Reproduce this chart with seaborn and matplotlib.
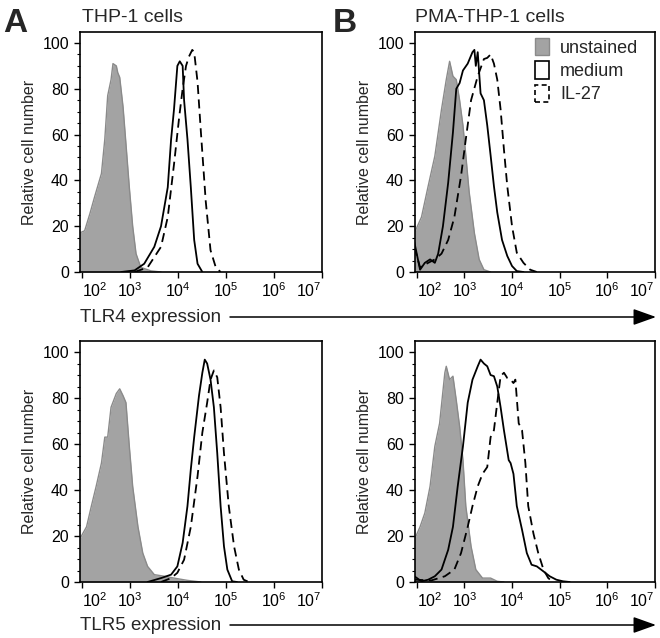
import numpy as np
import matplotlib
matplotlib.use('Agg')
import matplotlib.pyplot as plt
import seaborn as sns
from matplotlib.patches import Patch, FancyArrowPatch
from matplotlib.ticker import FixedLocator, LogLocator, NullFormatter, MultipleLocator

sns.set_theme(style='ticks')
plt.rcParams['font.family'] = ['Liberation Sans', 'DejaVu Sans']

# x values are log10(fluorescence), y values are relative cell number
# THP-1 cells, TLR4
a_tlr4_unst_x = [1.95, 2.06, 2.17, 2.27, 2.41, 2.48, 2.54, 2.61, 2.65, 2.72, 2.75, 2.79, 2.86,
                 2.92, 2.99, 3.06, 3.13, 3.23, 3.44, 3.65]
a_tlr4_unst_y = [17, 18, 25.5, 33, 43, 58, 77, 84, 91, 90, 87, 85, 72, 56, 37, 20, 8, 2, 0.5, 0]
a_tlr4_med_x = [2.82, 3.10, 3.30, 3.51, 3.65, 3.79, 3.86, 3.92, 3.99, 4.04, 4.10, 4.13, 4.20,
                4.27, 4.34, 4.41, 4.51]
a_tlr4_med_y = [0, 0.7, 3.6, 11, 20, 37, 58, 71, 90, 92, 90, 75, 58, 37, 14, 3.6, 0]
a_tlr4_il27_x = [3.10, 3.37, 3.65, 3.79, 3.92, 4.03, 4.10, 4.17, 4.23, 4.30, 4.34, 4.41, 4.48,
                 4.58, 4.68, 4.79, 4.89]
a_tlr4_il27_y = [0, 2, 11, 24, 47, 68, 80, 90, 94, 97, 96, 83, 61, 31, 9.5, 2, 0]

# PMA-THP-1 cells, TLR4
b_tlr4_unst_x = [1.95, 2.10, 2.24, 2.38, 2.52, 2.62, 2.69, 2.76, 2.83, 2.90, 2.97, 3.03, 3.10,
                 3.21, 3.31, 3.41, 3.55]
b_tlr4_unst_y = [17, 24, 37.5, 50.6, 71, 84, 92, 85.5, 84, 75, 64, 51, 35, 17, 5.5, 1, 0]
b_tlr4_med_x = [1.95, 2.07, 2.17, 2.28, 2.38, 2.45, 2.55, 2.66, 2.76, 2.83, 2.90, 2.97, 3.07,
                3.17, 3.21, 3.24, 3.28, 3.34, 3.41, 3.48, 3.55, 3.62, 3.69, 3.79, 3.90, 4.00,
                4.10, 4.24]
b_tlr4_med_y = [13, 1, 4, 5.5, 4, 8, 20, 39, 61, 80, 82.5, 88, 91, 96, 97, 90, 96, 78, 75, 64,
                51, 37.5, 26, 14, 7, 2.6, 0.4, 0]
b_tlr4_il27_x = [1.95, 2.07, 2.24, 2.38, 2.52, 2.66, 2.79, 2.93, 3.03, 3.14, 3.28, 3.41, 3.48,
                 3.55, 3.62, 3.69, 3.76, 3.83, 3.90, 4.00, 4.10, 4.24, 4.38, 4.52]
b_tlr4_il27_y = [11, 2, 4, 5.5, 8, 14, 24, 42, 58, 75, 85.5, 93, 93.5, 95, 91, 84, 71, 53.5,
                 37.5, 20, 8.4, 4, 1, 0]

# THP-1 cells, TLR5
a_tlr5_unst_x = [1.95, 2.10, 2.20, 2.30, 2.41, 2.48, 2.54, 2.61, 2.72, 2.79, 2.86, 2.92, 2.99,
                 3.06, 3.17, 3.27, 3.37, 3.51, 3.72, 3.92, 4.20, 4.48]
a_tlr5_unst_y = [18.4, 24, 33, 41.6, 51.7, 63, 63, 76, 82, 84, 81, 78, 59, 41.6, 24, 12.6, 6.8,
                 3.2, 2.5, 1.7, 0.7, 0]
a_tlr5_med_x = [3.37, 3.65, 3.86, 3.99, 4.10, 4.20, 4.27, 4.34, 4.44, 4.51, 4.56, 4.61, 4.68,
                4.75, 4.82, 4.89, 4.96, 5.03, 5.13, 5.23]
a_tlr5_med_y = [0, 1.7, 3.2, 6.8, 17, 33, 49, 63, 81, 91, 96.7, 95, 88, 76, 56, 33, 15.5, 5.4,
                0.3, 0]
a_tlr5_il27_x = [3.65, 3.86, 3.99, 4.13, 4.27, 4.41, 4.51, 4.61, 4.68, 4.75, 4.82, 4.89, 4.96,
                 5.06, 5.17, 5.27, 5.37, 5.48]
a_tlr5_il27_y = [0, 1.7, 4, 9.7, 24, 46, 65, 78, 88, 92, 89, 76, 56, 33, 15.5, 5.4, 1, 0]

# PMA-THP-1 cells, TLR5
b_tlr5_unst_x = [1.95, 2.07, 2.17, 2.28, 2.38, 2.48, 2.59, 2.62, 2.69, 2.76, 2.83, 2.90, 2.97,
                 3.03, 3.14, 3.24, 3.38, 3.55, 3.69, 3.83]
b_tlr5_unst_y = [18.4, 24, 30, 41.6, 59, 69, 91, 93.8, 88, 89.5, 79, 67.7, 53, 33, 15.5, 5.4,
                 1.7, 1.7, 0.3, 0]
b_tlr5_med_x = [1.95, 2.10, 2.24, 2.38, 2.52, 2.66, 2.76, 2.86, 2.97, 3.07, 3.17, 3.28, 3.34,
                3.41, 3.48, 3.55, 3.62, 3.69, 3.76, 3.83, 3.93, 3.97, 4.03, 4.10, 4.21, 4.31,
                4.41, 4.52, 4.66, 4.79, 4.93, 5.07, 5.21]
b_tlr5_med_y = [2.5, 0.3, 1, 2.5, 5.4, 14, 24, 41.6, 59, 78, 88, 93.8, 96.7, 95, 93.8, 90, 89.5,
                85, 76, 66, 53, 51.7, 47, 33, 22.7, 12.6, 7.5, 6.8, 4.6, 2.5, 1, 0.3, 0]
b_tlr5_il27_x = [1.95, 2.31, 2.59, 2.79, 2.93, 3.07, 3.17, 3.28, 3.38, 3.48, 3.55, 3.62, 3.69,
                 3.76, 3.83, 3.90, 3.97, 4.03, 4.07, 4.14, 4.21, 4.28, 4.34, 4.45, 4.55, 4.66,
                 4.76, 4.86]
b_tlr5_il27_y = [1, 0.7, 2.5, 5.4, 12.6, 24, 33, 41.6, 47, 50, 63, 66, 78, 89.5, 91, 88.7, 88,
                 86.5, 88, 69, 66, 51.7, 33, 21, 12.6, 5.4, 1.7, 0]

decade_exps = [2, 3, 4, 5, 6, 7]
legend_labels = ['unstained', 'medium', 'IL-27']

GRAY_FILL = '#a3a3a3'
GRAY_EDGE = '#8a8a8a'
W, H = 660, 638


def fig_box(left, top, right, bottom):
    """pixel box -> figure fraction rect"""
    return [left / W, 1 - bottom / H, (right - left) / W, (bottom - top) / H]


def draw_panel(ax, ux, uy, mx, my, ix, iy):
    ux = 10 ** np.array(ux)
    ax.fill_between(ux, uy, 0, color=GRAY_FILL, lw=0, zorder=1)
    sns.lineplot(x=ux, y=uy, ax=ax, color=GRAY_EDGE, lw=1.0, estimator=None, zorder=2)
    sns.lineplot(x=10 ** np.array(mx), y=my, ax=ax, color='black', lw=1.3,
                 estimator=None, zorder=3)
    sns.lineplot(x=10 ** np.array(ix), y=iy, ax=ax, color='black', lw=1.3,
                 linestyle=(0, (5, 3)), estimator=None, zorder=4)

    ax.set_xscale('log')
    ax.set_xlim(92, 1e7)
    ax.set_ylim(0, 104.8)

    ax.xaxis.set_major_locator(FixedLocator([10.0 ** e for e in decade_exps]))
    ax.xaxis.set_minor_locator(LogLocator(base=10, subs=np.arange(2, 10)))
    ax.xaxis.set_minor_formatter(NullFormatter())
    ax.set_xticklabels([r'$\mathdefault{10^{%d}}$' % e for e in decade_exps])

    ax.set_yticks([0, 20, 40, 60, 80, 100])
    ax.yaxis.set_minor_locator(MultipleLocator(5))

    ax.tick_params(axis='both', which='major', direction='out', length=4, width=1,
                   color='black', labelsize=11.5, pad=3, labelcolor='black')
    ax.tick_params(axis='both', which='minor', direction='out', length=2, width=0.8,
                   color='black')
    ax.tick_params(axis='y', pad=4)
    for sp in ax.spines.values():
        sp.set_visible(True)
        sp.set_color('black')
        sp.set_linewidth(1.2)
    ax.set_xlabel('')
    ax.set_ylabel('Relative cell number', fontsize=11.5, labelpad=4)
    ax.set_facecolor('white')


fig = plt.figure(figsize=(W / 100, H / 100), dpi=100)

ax_a1 = fig.add_axes(fig_box(80, 32, 322, 272))
ax_b1 = fig.add_axes(fig_box(415, 32, 655, 272))
ax_a2 = fig.add_axes(fig_box(80, 341, 322, 582))
ax_b2 = fig.add_axes(fig_box(415, 341, 655, 582))
all_axes = [ax_a1, ax_b1, ax_a2, ax_b2]

draw_panel(ax_a1, a_tlr4_unst_x, a_tlr4_unst_y, a_tlr4_med_x, a_tlr4_med_y,
           a_tlr4_il27_x, a_tlr4_il27_y)
draw_panel(ax_b1, b_tlr4_unst_x, b_tlr4_unst_y, b_tlr4_med_x, b_tlr4_med_y,
           b_tlr4_il27_x, b_tlr4_il27_y)
draw_panel(ax_a2, a_tlr5_unst_x, a_tlr5_unst_y, a_tlr5_med_x, a_tlr5_med_y,
           a_tlr5_il27_x, a_tlr5_il27_y)
draw_panel(ax_b2, b_tlr5_unst_x, b_tlr5_unst_y, b_tlr5_med_x, b_tlr5_med_y,
           b_tlr5_il27_x, b_tlr5_il27_y)

# legend in panel B (top)
handles = [
    Patch(facecolor=GRAY_FILL, edgecolor=GRAY_EDGE, lw=1.0),
    Patch(facecolor='white', edgecolor='black', lw=1.2),
    Patch(facecolor='white', edgecolor='black', lw=1.2, linestyle=(0, (3, 2))),
]
ax_b1.legend(handles, legend_labels, loc='upper left', bbox_to_anchor=(0.5, 0.975),
             frameon=False, fontsize=13, handlelength=0.8, handleheight=1.1,
             handletextpad=0.6, labelspacing=0.25, borderpad=0, borderaxespad=0)

# panel letters and titles
fig.text(3 / W, 1 - 32 / H, 'A', fontsize=24, fontweight='heavy', va='baseline')
fig.text(333 / W, 1 - 32 / H, 'B', fontsize=24, fontweight='heavy', va='baseline')
fig.text(82 / W, 1 - 22 / H, 'THP-1 cells', fontsize=14, va='baseline')
fig.text(415 / W, 1 - 22 / H, 'PMA-THP-1 cells', fontsize=14, va='baseline')

# x axis labels with long arrows
for y_px, txt in [(317, 'TLR4 expression'), (625, 'TLR5 expression')]:
    fig.text(80 / W, 1 - y_px / H, txt, fontsize=13.5, va='center')
    fig.add_artist(FancyArrowPatch(
        (230 / W, 1 - y_px / H), (656 / W, 1 - y_px / H), transform=fig.transFigure,
        arrowstyle='-|>,head_length=7,head_width=2.5', color='black', lw=1.1,
        mutation_scale=2, shrinkA=0, shrinkB=0))

# end labels sit inside the axis span, like the cytometer export
fig.canvas.draw()
for ax in all_axes:
    ticks = ax.xaxis.get_major_ticks()
    ticks[0].label1.set_horizontalalignment('left')
    ticks[-1].label1.set_horizontalalignment('right')

fig.savefig('out.png', dpi=100)
